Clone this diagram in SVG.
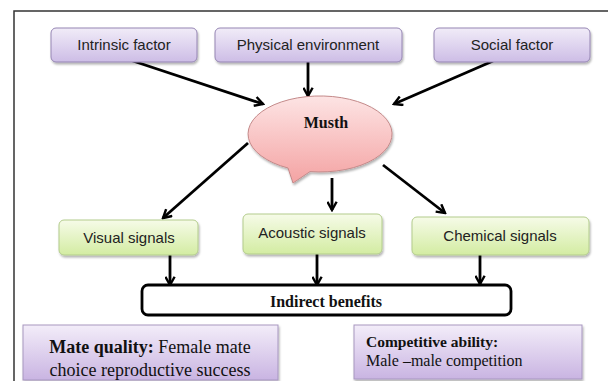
<svg xmlns="http://www.w3.org/2000/svg" width="608" height="381" viewBox="0 0 608 381">
<style>
.t{font-family:"Liberation Sans",Arial,sans-serif;font-size:15px;fill:#222;text-anchor:middle}
.s{font-family:"Liberation Serif","Times New Roman",serif;fill:#111}
.b{font-weight:bold}
.top{fill:url(#gp);stroke:#9585b3;stroke-width:1}
.grn{fill:url(#gg);stroke:#b3cc8c;stroke-width:1}
.bot{fill:url(#gb);stroke:#a797c0;stroke-width:1}
.ar{stroke:#000;stroke-width:2.8;fill:none;marker-end:url(#ah)}
</style>
<defs>
<linearGradient id="gp" x1="0" y1="0" x2="0" y2="1"><stop offset="0" stop-color="#f1ecf8"/><stop offset="1" stop-color="#cdbde6"/></linearGradient>
<linearGradient id="gg" x1="0" y1="0" x2="0" y2="1"><stop offset="0" stop-color="#f6fbe8"/><stop offset="1" stop-color="#d3eca2"/></linearGradient>
<linearGradient id="gb" x1="0" y1="0" x2="0" y2="1"><stop offset="0" stop-color="#f3edf9"/><stop offset="1" stop-color="#c9b4e2"/></linearGradient>
<linearGradient id="gm" x1="0" y1="0" x2="0" y2="1"><stop offset="0" stop-color="#fde4e4"/><stop offset="1" stop-color="#f4a3a3"/></linearGradient>
<filter id="sh" x="-10%" y="-20%" width="120%" height="150%"><feDropShadow dx="1" dy="2" stdDeviation="1.2" flood-color="#000" flood-opacity="0.3"/></filter>
<marker id="ah" viewBox="0 0 10 10" refX="8.5" refY="5" markerWidth="11" markerHeight="11" markerUnits="userSpaceOnUse" orient="auto"><path d="M1,0.8 L8.5,5 L1,9.2" fill="none" stroke="#000" stroke-width="2.2"/></marker>
</defs>
<rect width="608" height="381" fill="#fff"/>
<path d="M14,381 V11 H608" fill="none" stroke="#333" stroke-width="1.5"/>

<g id="connectors">
<line class="ar" x1="130" y1="60" x2="263" y2="104"/>
<line class="ar" x1="308" y1="62" x2="308" y2="96"/>
<line class="ar" x1="493" y1="61" x2="394" y2="104"/>
<line class="ar" x1="248" y1="143" x2="163" y2="218"/>
<line class="ar" x1="332" y1="178" x2="332" y2="210"/>
<line class="ar" x1="383" y1="165" x2="445" y2="213"/>
<line class="ar" x1="170" y1="255" x2="170" y2="285"/>
<line class="ar" x1="317" y1="254" x2="317" y2="285"/>
<line class="ar" x1="480" y1="255" x2="480" y2="284"/>
</g>

<g id="intrinsic"><rect class="top" x="51" y="28" width="146" height="34" rx="5" filter="url(#sh)"/><text class="t" x="124" y="50">Intrinsic factor</text></g>
<g id="physical"><rect class="top" x="215" y="28" width="187" height="34" rx="5" filter="url(#sh)"/><text class="t" x="308" y="50">Physical environment</text></g>
<g id="social"><rect class="top" x="434" y="28" width="156" height="34" rx="5" filter="url(#sh)"/><text class="t" x="512" y="50">Social factor</text></g>

<g id="musth"><path d="M288,168 L293,183 L310,171.6 A72 38 0 1 0 288,168 Z" fill="url(#gm)" stroke="#c48a8a" stroke-width="1" filter="url(#sh)"/><text class="s b" x="326" y="128" font-size="16" text-anchor="middle">Musth</text></g>

<g id="visual"><rect class="grn" x="59" y="220" width="139" height="35" rx="5" filter="url(#sh)"/><text class="t" x="129" y="243">Visual signals</text></g>
<g id="acoustic"><rect class="grn" x="243" y="214" width="139" height="40" rx="5" filter="url(#sh)"/><text class="t" x="312" y="238">Acoustic signals</text></g>
<g id="chemical"><rect class="grn" x="412" y="217" width="177" height="38" rx="5" filter="url(#sh)"/><text class="t" x="500" y="241">Chemical signals</text></g>

<g id="indirect"><rect x="142" y="285" width="369" height="30" rx="6" fill="#fff" stroke="#000" stroke-width="2.8"/><text class="s b" x="326" y="307" font-size="16" text-anchor="middle">Indirect benefits</text></g>

<g id="mate"><rect class="bot" x="23" y="325" width="255" height="55" filter="url(#sh)"/><text class="s" x="150" y="353" font-size="18" text-anchor="middle"><tspan class="b">Mate quality:</tspan> Female mate</text><text class="s" x="150" y="376" font-size="18" text-anchor="middle">choice reproductive success</text></g>
<g id="competitive"><rect class="bot" x="354" y="325" width="228" height="54" filter="url(#sh)"/><text class="s b" x="366" y="347" font-size="15.5">Competitive ability:</text><text class="s" x="366" y="366" font-size="16">Male –male competition</text></g>
</svg>
